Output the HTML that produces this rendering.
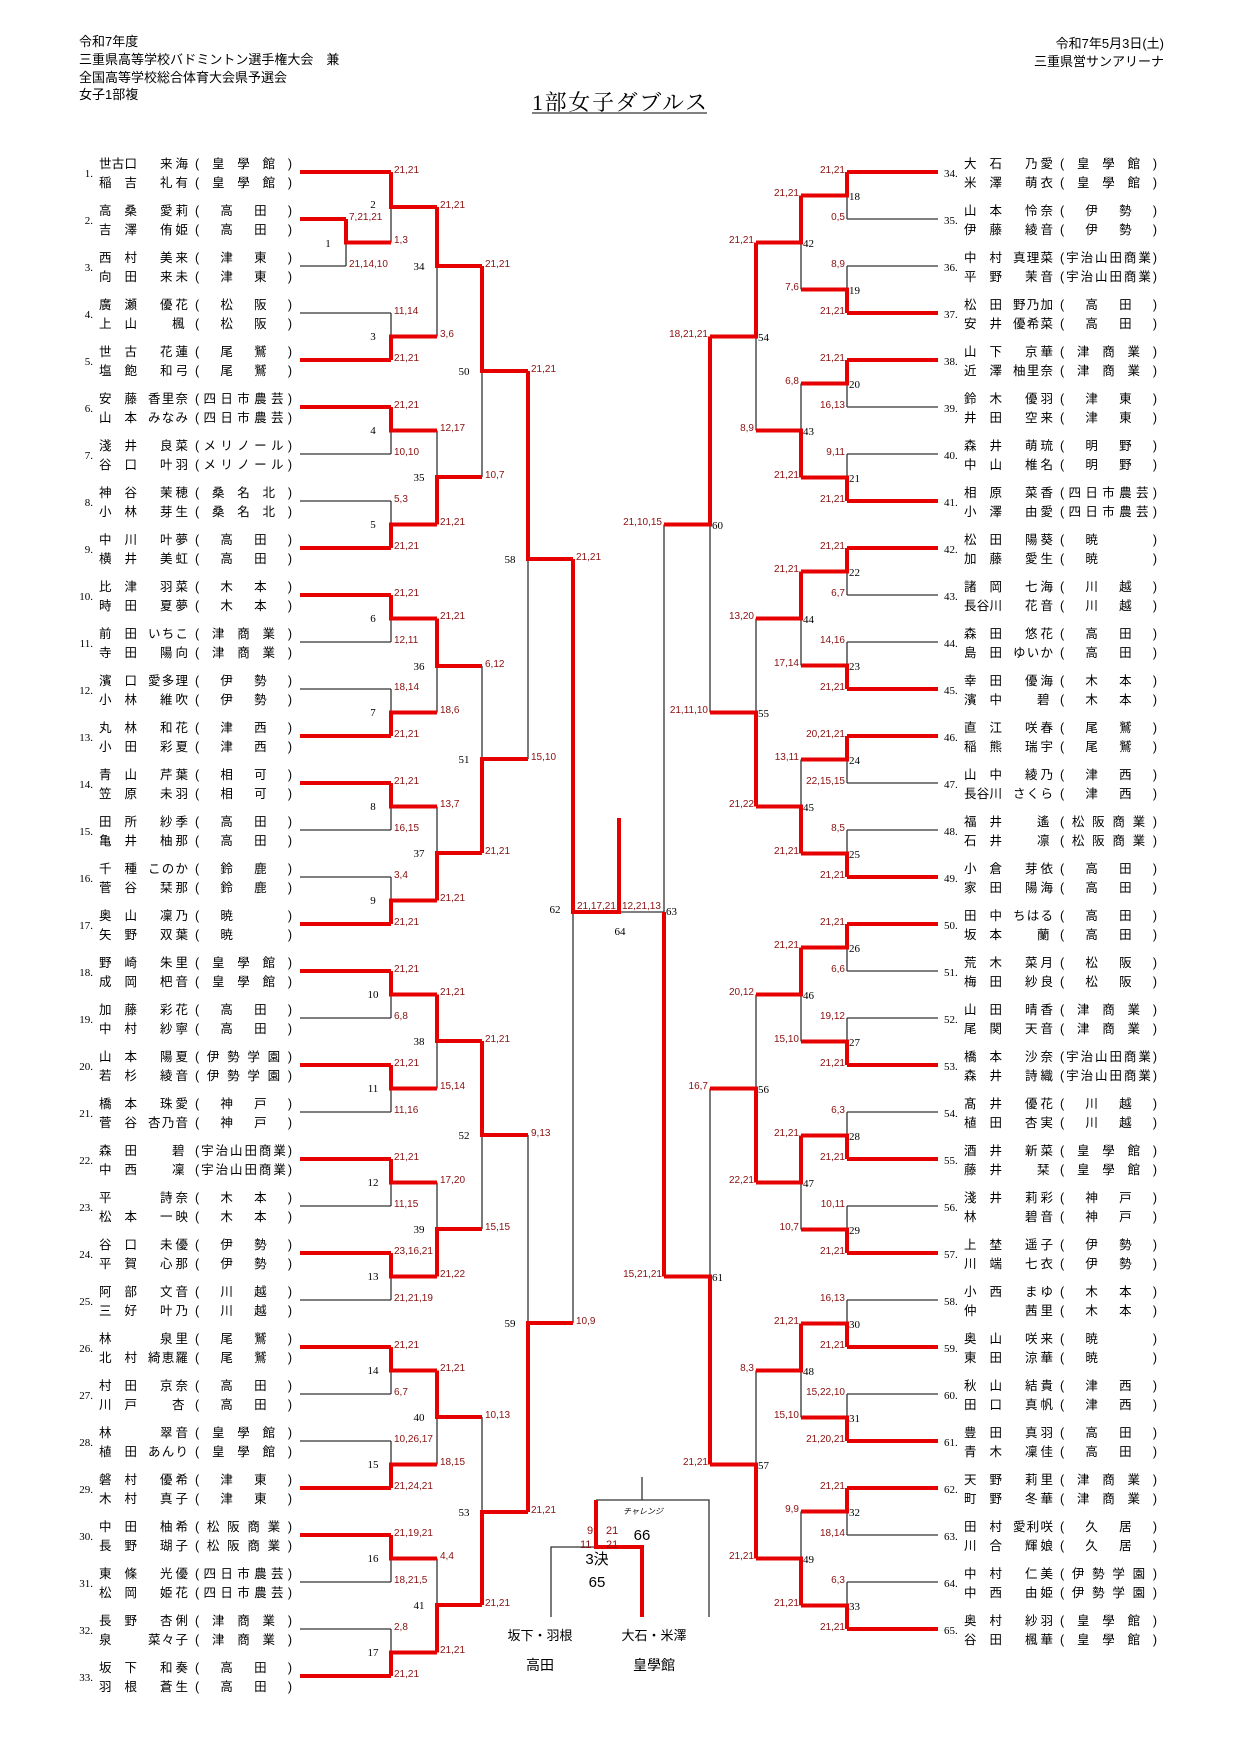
<!DOCTYPE html>
<html><head><meta charset="utf-8">
<style>
html,body{margin:0;padding:0;background:#fff;}
svg{display:block}
text{font-family:"Liberation Sans","Noto Sans CJK JP",sans-serif;font-size:12.5px;fill:#000}
.h{font-size:13px}
.ti{font-family:"Liberation Serif","Noto Serif CJK SC",serif;font-size:22px}
.no{font-family:"Liberation Serif",serif;font-size:11px}
.s{font-size:10px;fill:#8b1010}
.m{font-family:"Liberation Serif",serif;font-size:11px}
.r{stroke:#e60000;stroke-width:4;fill:none}
.k{stroke:#333;stroke-width:1.3;fill:none}
.le text.s{text-anchor:start}
.ri text.s{text-anchor:end}
</style></head><body>
<svg width="1241" height="1755" viewBox="0 0 1241 1755" xmlns="http://www.w3.org/2000/svg">
<!-- header -->
<text class="h" x="79" y="46">令和7年度</text>
<text class="h" x="79" y="64">三重県高等学校バドミントン選手権大会　兼</text>
<text class="h" x="79" y="82">全国高等学校総合体育大会県予選会</text>
<text class="h" x="79" y="99">女子1部複</text>
<text class="h" x="1164" y="48" text-anchor="end">令和7年5月3日(土)</text>
<text class="h" x="1164" y="66" text-anchor="end">三重県営サンアリーナ</text>
<text class="ti" x="532" y="110" textLength="175">1部女子ダブルス</text>
<line x1="532" y1="113" x2="707" y2="113" stroke="#000" stroke-width="1"/>

<!-- black lines -->
<path class="k" d="M300 266H346M300 313H391M300 454H391M300 501H391M300 642H391M300 689H391M300 830H391M300 877H391M300 1018H391M300 1112H391M300 1206H391M300 1300H391M300 1394H391M300 1441H391M300 1582H391M300 1629H391"/>
<path class="k" d="M346 242.5V266M391 207V242.5M391 313V336.5M391 430.5V454M391 501V524.5M391 618.5V642M391 689V712.5M391 806.5V830M391 877V900.5M391 994.5V1018M391 1088.5V1112M391 1182.5V1206M391 1276.5V1300M391 1370.5V1394M391 1441V1464.5M391 1558.5V1582M391 1629V1652.5M437 266V336.5M437 430.5V477M437 666V712.5M437 806.5V853M437 1041V1088.5M437 1182.5V1229M437 1417V1464.5M437 1558.5V1605M482 371V477M482 666V759M482 1135V1229M482 1417V1512M528 559V759M528 1135V1323M573 912V1323"/>
<path class="k" d="M847 219H938M847 266H938M847 407H938M847 454H938M847 595H938M847 642H938M847 783H938M847 830H938M847 971H938M847 1018H938M847 1112H938M847 1206H938M847 1300H938M847 1394H938M847 1535H938M847 1582H938"/>
<path class="k" d="M847 195.5V219M847 266V289.5M847 383.5V407M847 454V477.5M847 571.5V595M847 642V665.5M847 759.5V783M847 830V853.5M847 947.5V971M847 1018V1041.5M847 1112V1135.5M847 1206V1229.5M847 1300V1323.5M847 1394V1417.5M847 1511.5V1535M847 1582V1605.5M801 242.5V289.5M801 383.5V430.5M801 618.5V665.5M801 759.5V806.5M801 994.5V1041.5M801 1182.5V1229.5M801 1370.5V1417.5M801 1511.5V1558.5M756 336.5V430.5M756 618.5V712.5M756 994.5V1088.5M756 1370.5V1464.5M710 524.5V712.5M710 1088.5V1276.5M664 524.5V912H619"/>
<path class="k" d="M551 1617V1547H596M642 1477V1500M596 1500H709V1617"/>

<!-- red lines -->
<path class="r" d="M300 172H391M300 219H346M300 360H391M300 407H391M300 548H391M300 595H391M300 736H391M300 783H391M300 924H391M300 971H391M300 1065H391M300 1159H391M300 1253H391M300 1347H391M300 1488H391M300 1535H391M300 1676H391"/>
<path class="r" d="M346 219V242.5H391M391 172V207H437M391 360V336.5H437M391 407V430.5H437M391 548V524.5H437M391 595V618.5H437M391 736V712.5H437M391 783V806.5H437M391 924V900.5H437M391 971V994.5H437M391 1065V1088.5H437M391 1159V1182.5H437M391 1253V1276.5H437M391 1347V1370.5H437M391 1488V1464.5H437M391 1535V1558.5H437M391 1676V1652.5H437"/>
<path class="r" d="M437 207V266H482M437 524.5V477H482M437 618.5V666H482M437 900.5V853H482M437 994.5V1041H482M437 1276.5V1229H482M437 1370.5V1417H482M437 1652.5V1605H482M482 266V371H528M482 853V759H528M482 1041V1135H528M482 1605V1512H528M528 371V559H573M528 1512V1323H573M573 559V912H619V818"/>
<path class="r" d="M847 172H938M847 313H938M847 360H938M847 501H938M847 548H938M847 689H938M847 736H938M847 877H938M847 924H938M847 1065H938M847 1159H938M847 1253H938M847 1347H938M847 1441H938M847 1488H938M847 1629H938"/>
<path class="r" d="M847 172V195.5H801M847 313V289.5H801M847 360V383.5H801M847 501V477.5H801M847 548V571.5H801M847 689V665.5H801M847 736V759.5H801M847 877V853.5H801M847 924V947.5H801M847 1065V1041.5H801M847 1159V1135.5H801M847 1253V1229.5H801M847 1347V1323.5H801M847 1441V1417.5H801M847 1488V1511.5H801M847 1629V1605.5H801"/>
<path class="r" d="M801 195.5V242.5H756M801 477.5V430.5H756M801 571.5V618.5H756M801 853.5V806.5H756M801 947.5V994.5H756M801 1135.5V1182.5H756M801 1323.5V1370.5H756M801 1605.5V1558.5H756M756 242.5V336.5H710M756 806.5V712.5H710M756 1182.5V1088.5H710M756 1558.5V1464.5H710M710 336.5V524.5H664M710 1464.5V1276.5H664M664 1276.5V912"/>
<path class="r" d="M596 1500V1547H642V1617"/>

<!-- left scores -->
<g class="le">
<text class="s" x="349" y="220">7,21,21</text><text class="s" x="349" y="267">21,14,10</text>
<text class="s" x="394" y="173">21,21</text><text class="s" x="394" y="243">1,3</text>
<text class="s" x="394" y="314">11,14</text><text class="s" x="394" y="361">21,21</text>
<text class="s" x="394" y="408">21,21</text><text class="s" x="394" y="455">10,10</text>
<text class="s" x="394" y="502">5,3</text><text class="s" x="394" y="549">21,21</text>
<text class="s" x="394" y="596">21,21</text><text class="s" x="394" y="643">12,11</text>
<text class="s" x="394" y="690">18,14</text><text class="s" x="394" y="737">21,21</text>
<text class="s" x="394" y="784">21,21</text><text class="s" x="394" y="831">16,15</text>
<text class="s" x="394" y="878">3,4</text><text class="s" x="394" y="925">21,21</text>
<text class="s" x="394" y="972">21,21</text><text class="s" x="394" y="1019">6,8</text>
<text class="s" x="394" y="1066">21,21</text><text class="s" x="394" y="1113">11,16</text>
<text class="s" x="394" y="1160">21,21</text><text class="s" x="394" y="1207">11,15</text>
<text class="s" x="394" y="1254">23,16,21</text><text class="s" x="394" y="1301">21,21,19</text>
<text class="s" x="394" y="1348">21,21</text><text class="s" x="394" y="1395">6,7</text>
<text class="s" x="394" y="1442">10,26,17</text><text class="s" x="394" y="1489">21,24,21</text>
<text class="s" x="394" y="1536">21,19,21</text><text class="s" x="394" y="1583">18,21,5</text>
<text class="s" x="394" y="1630">2,8</text><text class="s" x="394" y="1677">21,21</text>
<text class="s" x="440" y="208">21,21</text><text class="s" x="440" y="337">3,6</text>
<text class="s" x="440" y="431">12,17</text><text class="s" x="440" y="525">21,21</text>
<text class="s" x="440" y="619">21,21</text><text class="s" x="440" y="713">18,6</text>
<text class="s" x="440" y="807">13,7</text><text class="s" x="440" y="901">21,21</text>
<text class="s" x="440" y="995">21,21</text><text class="s" x="440" y="1089">15,14</text>
<text class="s" x="440" y="1183">17,20</text><text class="s" x="440" y="1277">21,22</text>
<text class="s" x="440" y="1371">21,21</text><text class="s" x="440" y="1465">18,15</text>
<text class="s" x="440" y="1559">4,4</text><text class="s" x="440" y="1653">21,21</text>
<text class="s" x="485" y="267">21,21</text><text class="s" x="485" y="478">10,7</text>
<text class="s" x="485" y="667">6,12</text><text class="s" x="485" y="854">21,21</text>
<text class="s" x="485" y="1042">21,21</text><text class="s" x="485" y="1230">15,15</text>
<text class="s" x="485" y="1418">10,13</text><text class="s" x="485" y="1606">21,21</text>
<text class="s" x="531" y="372">21,21</text><text class="s" x="531" y="760">15,10</text>
<text class="s" x="531" y="1136">9,13</text><text class="s" x="531" y="1513">21,21</text>
<text class="s" x="576" y="560">21,21</text><text class="s" x="576" y="1324">10,9</text>
<text class="s" x="577" y="909">21,17,21</text><text class="s" x="622" y="909">12,21,13</text>
</g>
<!-- right scores -->
<g class="ri">
<text class="s" x="845" y="173">21,21</text><text class="s" x="845" y="220">0,5</text>
<text class="s" x="845" y="267">8,9</text><text class="s" x="845" y="314">21,21</text>
<text class="s" x="845" y="361">21,21</text><text class="s" x="845" y="408">16,13</text>
<text class="s" x="845" y="455">9,11</text><text class="s" x="845" y="502">21,21</text>
<text class="s" x="845" y="549">21,21</text><text class="s" x="845" y="596">6,7</text>
<text class="s" x="845" y="643">14,16</text><text class="s" x="845" y="690">21,21</text>
<text class="s" x="845" y="737">20,21,21</text><text class="s" x="845" y="784">22,15,15</text>
<text class="s" x="845" y="831">8,5</text><text class="s" x="845" y="878">21,21</text>
<text class="s" x="845" y="925">21,21</text><text class="s" x="845" y="972">6,6</text>
<text class="s" x="845" y="1019">19,12</text><text class="s" x="845" y="1066">21,21</text>
<text class="s" x="845" y="1113">6,3</text><text class="s" x="845" y="1160">21,21</text>
<text class="s" x="845" y="1207">10,11</text><text class="s" x="845" y="1254">21,21</text>
<text class="s" x="845" y="1301">16,13</text><text class="s" x="845" y="1348">21,21</text>
<text class="s" x="845" y="1395">15,22,10</text><text class="s" x="845" y="1442">21,20,21</text>
<text class="s" x="845" y="1489">21,21</text><text class="s" x="845" y="1536">18,14</text>
<text class="s" x="845" y="1583">6,3</text><text class="s" x="845" y="1630">21,21</text>
<text class="s" x="799" y="196">21,21</text><text class="s" x="799" y="290">7,6</text>
<text class="s" x="799" y="384">6,8</text><text class="s" x="799" y="478">21,21</text>
<text class="s" x="799" y="572">21,21</text><text class="s" x="799" y="666">17,14</text>
<text class="s" x="799" y="760">13,11</text><text class="s" x="799" y="854">21,21</text>
<text class="s" x="799" y="948">21,21</text><text class="s" x="799" y="1042">15,10</text>
<text class="s" x="799" y="1136">21,21</text><text class="s" x="799" y="1230">10,7</text>
<text class="s" x="799" y="1324">21,21</text><text class="s" x="799" y="1418">15,10</text>
<text class="s" x="799" y="1512">9,9</text><text class="s" x="799" y="1606">21,21</text>
<text class="s" x="754" y="243">21,21</text><text class="s" x="754" y="431">8,9</text>
<text class="s" x="754" y="619">13,20</text><text class="s" x="754" y="807">21,22</text>
<text class="s" x="754" y="995">20,12</text><text class="s" x="754" y="1183">22,21</text>
<text class="s" x="754" y="1371">8,3</text><text class="s" x="754" y="1559">21,21</text>
<text class="s" x="708" y="337">18,21,21</text><text class="s" x="708" y="713">21,11,10</text>
<text class="s" x="708" y="1089">16,7</text><text class="s" x="708" y="1465">21,21</text>
<text class="s" x="662" y="525">21,10,15</text><text class="s" x="662" y="1277">15,21,21</text>
</g>

<!-- match numbers left -->
<g class="m" text-anchor="middle">
<text class="m" x="328" y="247" text-anchor="middle">1</text>
<text class="m" x="373" y="208" text-anchor="middle">2</text>
<text class="m" x="373" y="340" text-anchor="middle">3</text>
<text class="m" x="373" y="434" text-anchor="middle">4</text>
<text class="m" x="373" y="528" text-anchor="middle">5</text>
<text class="m" x="373" y="622" text-anchor="middle">6</text>
<text class="m" x="373" y="716" text-anchor="middle">7</text>
<text class="m" x="373" y="810" text-anchor="middle">8</text>
<text class="m" x="373" y="904" text-anchor="middle">9</text>
<text class="m" x="373" y="998" text-anchor="middle">10</text>
<text class="m" x="373" y="1092" text-anchor="middle">11</text>
<text class="m" x="373" y="1186" text-anchor="middle">12</text>
<text class="m" x="373" y="1280" text-anchor="middle">13</text>
<text class="m" x="373" y="1374" text-anchor="middle">14</text>
<text class="m" x="373" y="1468" text-anchor="middle">15</text>
<text class="m" x="373" y="1562" text-anchor="middle">16</text>
<text class="m" x="373" y="1656" text-anchor="middle">17</text>
<text class="m" x="419" y="270" text-anchor="middle">34</text>
<text class="m" x="419" y="481" text-anchor="middle">35</text>
<text class="m" x="419" y="670" text-anchor="middle">36</text>
<text class="m" x="419" y="857" text-anchor="middle">37</text>
<text class="m" x="419" y="1045" text-anchor="middle">38</text>
<text class="m" x="419" y="1233" text-anchor="middle">39</text>
<text class="m" x="419" y="1421" text-anchor="middle">40</text>
<text class="m" x="419" y="1609" text-anchor="middle">41</text>
<text class="m" x="464" y="375" text-anchor="middle">50</text>
<text class="m" x="464" y="763" text-anchor="middle">51</text>
<text class="m" x="464" y="1139" text-anchor="middle">52</text>
<text class="m" x="464" y="1516" text-anchor="middle">53</text>
<text class="m" x="510" y="563" text-anchor="middle">58</text>
<text class="m" x="510" y="1327" text-anchor="middle">59</text>
<text class="m" x="555" y="913" text-anchor="middle">62</text>
<text class="m" x="620" y="935" text-anchor="middle">64</text>
</g>
<!-- match numbers right -->
<text class="m" x="849" y="200">18</text><text class="m" x="849" y="294">19</text>
<text class="m" x="849" y="388">20</text><text class="m" x="849" y="482">21</text>
<text class="m" x="849" y="576">22</text><text class="m" x="849" y="670">23</text>
<text class="m" x="849" y="764">24</text><text class="m" x="849" y="858">25</text>
<text class="m" x="849" y="952">26</text><text class="m" x="849" y="1046">27</text>
<text class="m" x="849" y="1140">28</text><text class="m" x="849" y="1234">29</text>
<text class="m" x="849" y="1328">30</text><text class="m" x="849" y="1422">31</text>
<text class="m" x="849" y="1516">32</text><text class="m" x="849" y="1610">33</text>
<text class="m" x="803" y="247">42</text><text class="m" x="803" y="435">43</text>
<text class="m" x="803" y="623">44</text><text class="m" x="803" y="811">45</text>
<text class="m" x="803" y="999">46</text><text class="m" x="803" y="1187">47</text>
<text class="m" x="803" y="1375">48</text><text class="m" x="803" y="1563">49</text>
<text class="m" x="758" y="341">54</text><text class="m" x="758" y="717">55</text>
<text class="m" x="758" y="1093">56</text><text class="m" x="758" y="1469">57</text>
<text class="m" x="712" y="529">60</text><text class="m" x="712" y="1281">61</text>
<text class="m" x="666" y="915">63</text>

<!-- 3rd place / challenge -->
<text class="s" x="587" y="1534" style="font-size:11px">9</text>
<text class="s" x="606" y="1534" style="font-size:11px">21</text>
<text class="s" x="580" y="1548" style="font-size:11px">11</text>
<text class="s" x="606" y="1548" style="font-size:11px">21</text>
<text x="623" y="1514" style="font-size:8px;font-style:italic">チャレンジ</text>
<text x="642" y="1540" text-anchor="middle" style="font-size:15px">66</text>
<text x="597" y="1564" text-anchor="middle" style="font-size:15px">3決</text>
<text x="597" y="1587" text-anchor="middle" style="font-size:15px">65</text>
<text x="540" y="1640" text-anchor="middle" style="font-size:13px">坂下・羽根</text>
<text x="540" y="1670" text-anchor="middle" style="font-size:14px">高田</text>
<text x="654" y="1640" text-anchor="middle" style="font-size:13px">大石・米澤</text>
<text x="654" y="1670" text-anchor="middle" style="font-size:14px">皇學館</text>

<!-- LEFT ENTRIES -->
<g transform="translate(0,172)"><text class="no" x="93" y="5" text-anchor="end">1.</text><text x="99" y="-4" textLength="38">世古口</text><text x="160" y="-4" textLength="28">来海</text><text x="195" y="-4" textLength="97">(皇學館)</text><text x="99" y="15" textLength="38">稲吉</text><text x="160" y="15" textLength="28">礼有</text><text x="195" y="15" textLength="97">(皇學館)</text></g>
<g transform="translate(0,219)"><text class="no" x="93" y="5" text-anchor="end">2.</text><text x="99" y="-4" textLength="38">高桑</text><text x="160" y="-4" textLength="28">愛莉</text><text x="195" y="-4" textLength="97">(高田)</text><text x="99" y="15" textLength="38">吉澤</text><text x="160" y="15" textLength="28">侑姫</text><text x="195" y="15" textLength="97">(高田)</text></g>
<g transform="translate(0,266)"><text class="no" x="93" y="5" text-anchor="end">3.</text><text x="99" y="-4" textLength="38">西村</text><text x="160" y="-4" textLength="28">美来</text><text x="195" y="-4" textLength="97">(津東)</text><text x="99" y="15" textLength="38">向田</text><text x="160" y="15" textLength="28">来未</text><text x="195" y="15" textLength="97">(津東)</text></g>
<g transform="translate(0,313)"><text class="no" x="93" y="5" text-anchor="end">4.</text><text x="99" y="-4" textLength="38">廣瀬</text><text x="160" y="-4" textLength="28">優花</text><text x="195" y="-4" textLength="97">(松阪)</text><text x="99" y="15" textLength="38">上山</text><text x="172" y="15">楓</text><text x="195" y="15" textLength="97">(松阪)</text></g>
<g transform="translate(0,360)"><text class="no" x="93" y="5" text-anchor="end">5.</text><text x="99" y="-4" textLength="38">世古</text><text x="160" y="-4" textLength="28">花蓮</text><text x="195" y="-4" textLength="97">(尾鷲)</text><text x="99" y="15" textLength="38">塩飽</text><text x="160" y="15" textLength="28">和弓</text><text x="195" y="15" textLength="97">(尾鷲)</text></g>
<g transform="translate(0,407)"><text class="no" x="93" y="5" text-anchor="end">6.</text><text x="99" y="-4" textLength="38">安藤</text><text x="148" y="-4" textLength="40">香里奈</text><text x="195" y="-4" textLength="97">(四日市農芸)</text><text x="99" y="15" textLength="38">山本</text><text x="148" y="15" textLength="40">みなみ</text><text x="195" y="15" textLength="97">(四日市農芸)</text></g>
<g transform="translate(0,454)"><text class="no" x="93" y="5" text-anchor="end">7.</text><text x="99" y="-4" textLength="38">淺井</text><text x="160" y="-4" textLength="28">良菜</text><text x="195" y="-4" textLength="97">(メリノール)</text><text x="99" y="15" textLength="38">谷口</text><text x="160" y="15" textLength="28">叶羽</text><text x="195" y="15" textLength="97">(メリノール)</text></g>
<g transform="translate(0,501)"><text class="no" x="93" y="5" text-anchor="end">8.</text><text x="99" y="-4" textLength="38">神谷</text><text x="160" y="-4" textLength="28">茉穂</text><text x="195" y="-4" textLength="97">(桑名北)</text><text x="99" y="15" textLength="38">小林</text><text x="160" y="15" textLength="28">芽生</text><text x="195" y="15" textLength="97">(桑名北)</text></g>
<g transform="translate(0,548)"><text class="no" x="93" y="5" text-anchor="end">9.</text><text x="99" y="-4" textLength="38">中川</text><text x="160" y="-4" textLength="28">叶夢</text><text x="195" y="-4" textLength="97">(高田)</text><text x="99" y="15" textLength="38">横井</text><text x="160" y="15" textLength="28">美虹</text><text x="195" y="15" textLength="97">(高田)</text></g>
<g transform="translate(0,595)"><text class="no" x="93" y="5" text-anchor="end">10.</text><text x="99" y="-4" textLength="38">比津</text><text x="160" y="-4" textLength="28">羽菜</text><text x="195" y="-4" textLength="97">(木本)</text><text x="99" y="15" textLength="38">時田</text><text x="160" y="15" textLength="28">夏夢</text><text x="195" y="15" textLength="97">(木本)</text></g>
<g transform="translate(0,642)"><text class="no" x="93" y="5" text-anchor="end">11.</text><text x="99" y="-4" textLength="38">前田</text><text x="148" y="-4" textLength="40">いちこ</text><text x="195" y="-4" textLength="97">(津商業)</text><text x="99" y="15" textLength="38">寺田</text><text x="160" y="15" textLength="28">陽向</text><text x="195" y="15" textLength="97">(津商業)</text></g>
<g transform="translate(0,689)"><text class="no" x="93" y="5" text-anchor="end">12.</text><text x="99" y="-4" textLength="38">濱口</text><text x="148" y="-4" textLength="40">愛多理</text><text x="195" y="-4" textLength="97">(伊勢)</text><text x="99" y="15" textLength="38">小林</text><text x="160" y="15" textLength="28">維吹</text><text x="195" y="15" textLength="97">(伊勢)</text></g>
<g transform="translate(0,736)"><text class="no" x="93" y="5" text-anchor="end">13.</text><text x="99" y="-4" textLength="38">丸林</text><text x="160" y="-4" textLength="28">和花</text><text x="195" y="-4" textLength="97">(津西)</text><text x="99" y="15" textLength="38">小田</text><text x="160" y="15" textLength="28">彩夏</text><text x="195" y="15" textLength="97">(津西)</text></g>
<g transform="translate(0,783)"><text class="no" x="93" y="5" text-anchor="end">14.</text><text x="99" y="-4" textLength="38">青山</text><text x="160" y="-4" textLength="28">芹葉</text><text x="195" y="-4" textLength="97">(相可)</text><text x="99" y="15" textLength="38">笠原</text><text x="160" y="15" textLength="28">未羽</text><text x="195" y="15" textLength="97">(相可)</text></g>
<g transform="translate(0,830)"><text class="no" x="93" y="5" text-anchor="end">15.</text><text x="99" y="-4" textLength="38">田所</text><text x="160" y="-4" textLength="28">紗季</text><text x="195" y="-4" textLength="97">(高田)</text><text x="99" y="15" textLength="38">亀井</text><text x="160" y="15" textLength="28">柚那</text><text x="195" y="15" textLength="97">(高田)</text></g>
<g transform="translate(0,877)"><text class="no" x="93" y="5" text-anchor="end">16.</text><text x="99" y="-4" textLength="38">千種</text><text x="148" y="-4" textLength="40">このか</text><text x="195" y="-4" textLength="97">(鈴鹿)</text><text x="99" y="15" textLength="38">菅谷</text><text x="160" y="15" textLength="28">栞那</text><text x="195" y="15" textLength="97">(鈴鹿)</text></g>
<g transform="translate(0,924)"><text class="no" x="93" y="5" text-anchor="end">17.</text><text x="99" y="-4" textLength="38">奥山</text><text x="160" y="-4" textLength="28">凜乃</text><text x="195" y="-4" textLength="97">(暁　)</text><text x="99" y="15" textLength="38">矢野</text><text x="160" y="15" textLength="28">双葉</text><text x="195" y="15" textLength="97">(暁　)</text></g>
<g transform="translate(0,971)"><text class="no" x="93" y="5" text-anchor="end">18.</text><text x="99" y="-4" textLength="38">野崎</text><text x="160" y="-4" textLength="28">朱里</text><text x="195" y="-4" textLength="97">(皇學館)</text><text x="99" y="15" textLength="38">成岡</text><text x="160" y="15" textLength="28">杷音</text><text x="195" y="15" textLength="97">(皇學館)</text></g>
<g transform="translate(0,1018)"><text class="no" x="93" y="5" text-anchor="end">19.</text><text x="99" y="-4" textLength="38">加藤</text><text x="160" y="-4" textLength="28">彩花</text><text x="195" y="-4" textLength="97">(高田)</text><text x="99" y="15" textLength="38">中村</text><text x="160" y="15" textLength="28">紗寧</text><text x="195" y="15" textLength="97">(高田)</text></g>
<g transform="translate(0,1065)"><text class="no" x="93" y="5" text-anchor="end">20.</text><text x="99" y="-4" textLength="38">山本</text><text x="160" y="-4" textLength="28">陽夏</text><text x="195" y="-4" textLength="97">(伊勢学園)</text><text x="99" y="15" textLength="38">若杉</text><text x="160" y="15" textLength="28">綾音</text><text x="195" y="15" textLength="97">(伊勢学園)</text></g>
<g transform="translate(0,1112)"><text class="no" x="93" y="5" text-anchor="end">21.</text><text x="99" y="-4" textLength="38">橋本</text><text x="160" y="-4" textLength="28">珠愛</text><text x="195" y="-4" textLength="97">(神戸)</text><text x="99" y="15" textLength="38">菅谷</text><text x="148" y="15" textLength="40">杏乃音</text><text x="195" y="15" textLength="97">(神戸)</text></g>
<g transform="translate(0,1159)"><text class="no" x="93" y="5" text-anchor="end">22.</text><text x="99" y="-4" textLength="38">森田</text><text x="172" y="-4">碧</text><text x="195" y="-4" textLength="97">(宇治山田商業)</text><text x="99" y="15" textLength="38">中西</text><text x="172" y="15">凜</text><text x="195" y="15" textLength="97">(宇治山田商業)</text></g>
<g transform="translate(0,1206)"><text class="no" x="93" y="5" text-anchor="end">23.</text><text x="99" y="-4">平</text><text x="160" y="-4" textLength="28">詩奈</text><text x="195" y="-4" textLength="97">(木本)</text><text x="99" y="15" textLength="38">松本</text><text x="160" y="15" textLength="28">一映</text><text x="195" y="15" textLength="97">(木本)</text></g>
<g transform="translate(0,1253)"><text class="no" x="93" y="5" text-anchor="end">24.</text><text x="99" y="-4" textLength="38">谷口</text><text x="160" y="-4" textLength="28">未優</text><text x="195" y="-4" textLength="97">(伊勢)</text><text x="99" y="15" textLength="38">平賀</text><text x="160" y="15" textLength="28">心那</text><text x="195" y="15" textLength="97">(伊勢)</text></g>
<g transform="translate(0,1300)"><text class="no" x="93" y="5" text-anchor="end">25.</text><text x="99" y="-4" textLength="38">阿部</text><text x="160" y="-4" textLength="28">文音</text><text x="195" y="-4" textLength="97">(川越)</text><text x="99" y="15" textLength="38">三好</text><text x="160" y="15" textLength="28">叶乃</text><text x="195" y="15" textLength="97">(川越)</text></g>
<g transform="translate(0,1347)"><text class="no" x="93" y="5" text-anchor="end">26.</text><text x="99" y="-4">林</text><text x="160" y="-4" textLength="28">泉里</text><text x="195" y="-4" textLength="97">(尾鷲)</text><text x="99" y="15" textLength="38">北村</text><text x="148" y="15" textLength="40">綺恵羅</text><text x="195" y="15" textLength="97">(尾鷲)</text></g>
<g transform="translate(0,1394)"><text class="no" x="93" y="5" text-anchor="end">27.</text><text x="99" y="-4" textLength="38">村田</text><text x="160" y="-4" textLength="28">京奈</text><text x="195" y="-4" textLength="97">(高田)</text><text x="99" y="15" textLength="38">川戸</text><text x="172" y="15">杏</text><text x="195" y="15" textLength="97">(高田)</text></g>
<g transform="translate(0,1441)"><text class="no" x="93" y="5" text-anchor="end">28.</text><text x="99" y="-4">林</text><text x="160" y="-4" textLength="28">翠音</text><text x="195" y="-4" textLength="97">(皇學館)</text><text x="99" y="15" textLength="38">植田</text><text x="148" y="15" textLength="40">あんり</text><text x="195" y="15" textLength="97">(皇學館)</text></g>
<g transform="translate(0,1488)"><text class="no" x="93" y="5" text-anchor="end">29.</text><text x="99" y="-4" textLength="38">磐村</text><text x="160" y="-4" textLength="28">優希</text><text x="195" y="-4" textLength="97">(津東)</text><text x="99" y="15" textLength="38">木村</text><text x="160" y="15" textLength="28">真子</text><text x="195" y="15" textLength="97">(津東)</text></g>
<g transform="translate(0,1535)"><text class="no" x="93" y="5" text-anchor="end">30.</text><text x="99" y="-4" textLength="38">中田</text><text x="160" y="-4" textLength="28">柚希</text><text x="195" y="-4" textLength="97">(松阪商業)</text><text x="99" y="15" textLength="38">長野</text><text x="160" y="15" textLength="28">瑚子</text><text x="195" y="15" textLength="97">(松阪商業)</text></g>
<g transform="translate(0,1582)"><text class="no" x="93" y="5" text-anchor="end">31.</text><text x="99" y="-4" textLength="38">東條</text><text x="160" y="-4" textLength="28">光優</text><text x="195" y="-4" textLength="97">(四日市農芸)</text><text x="99" y="15" textLength="38">松岡</text><text x="160" y="15" textLength="28">姫花</text><text x="195" y="15" textLength="97">(四日市農芸)</text></g>
<g transform="translate(0,1629)"><text class="no" x="93" y="5" text-anchor="end">32.</text><text x="99" y="-4" textLength="38">長野</text><text x="160" y="-4" textLength="28">杏俐</text><text x="195" y="-4" textLength="97">(津商業)</text><text x="99" y="15">泉</text><text x="148" y="15" textLength="40">菜々子</text><text x="195" y="15" textLength="97">(津商業)</text></g>
<g transform="translate(0,1676)"><text class="no" x="93" y="5" text-anchor="end">33.</text><text x="99" y="-4" textLength="38">坂下</text><text x="160" y="-4" textLength="28">和奏</text><text x="195" y="-4" textLength="97">(高田)</text><text x="99" y="15" textLength="38">羽根</text><text x="160" y="15" textLength="28">蒼生</text><text x="195" y="15" textLength="97">(高田)</text></g>

<!-- RIGHT ENTRIES (offset 865) -->
<g transform="translate(865,172)"><text class="no" x="79" y="5">34.</text><text x="99" y="-4" textLength="38">大石</text><text x="160" y="-4" textLength="28">乃愛</text><text x="195" y="-4" textLength="97">(皇學館)</text><text x="99" y="15" textLength="38">米澤</text><text x="160" y="15" textLength="28">萌衣</text><text x="195" y="15" textLength="97">(皇學館)</text></g>
<g transform="translate(865,219)"><text class="no" x="79" y="5">35.</text><text x="99" y="-4" textLength="38">山本</text><text x="160" y="-4" textLength="28">怜奈</text><text x="195" y="-4" textLength="97">(伊勢)</text><text x="99" y="15" textLength="38">伊藤</text><text x="160" y="15" textLength="28">綾音</text><text x="195" y="15" textLength="97">(伊勢)</text></g>
<g transform="translate(865,266)"><text class="no" x="79" y="5">36.</text><text x="99" y="-4" textLength="38">中村</text><text x="148" y="-4" textLength="40">真理菜</text><text x="195" y="-4" textLength="97">(宇治山田商業)</text><text x="99" y="15" textLength="38">平野</text><text x="160" y="15" textLength="28">茉音</text><text x="195" y="15" textLength="97">(宇治山田商業)</text></g>
<g transform="translate(865,313)"><text class="no" x="79" y="5">37.</text><text x="99" y="-4" textLength="38">松田</text><text x="148" y="-4" textLength="40">野乃加</text><text x="195" y="-4" textLength="97">(高田)</text><text x="99" y="15" textLength="38">安井</text><text x="148" y="15" textLength="40">優希菜</text><text x="195" y="15" textLength="97">(高田)</text></g>
<g transform="translate(865,360)"><text class="no" x="79" y="5">38.</text><text x="99" y="-4" textLength="38">山下</text><text x="160" y="-4" textLength="28">京華</text><text x="195" y="-4" textLength="97">(津商業)</text><text x="99" y="15" textLength="38">近澤</text><text x="148" y="15" textLength="40">柚里奈</text><text x="195" y="15" textLength="97">(津商業)</text></g>
<g transform="translate(865,407)"><text class="no" x="79" y="5">39.</text><text x="99" y="-4" textLength="38">鈴木</text><text x="160" y="-4" textLength="28">優羽</text><text x="195" y="-4" textLength="97">(津東)</text><text x="99" y="15" textLength="38">井田</text><text x="160" y="15" textLength="28">空来</text><text x="195" y="15" textLength="97">(津東)</text></g>
<g transform="translate(865,454)"><text class="no" x="79" y="5">40.</text><text x="99" y="-4" textLength="38">森井</text><text x="160" y="-4" textLength="28">萌琉</text><text x="195" y="-4" textLength="97">(明野)</text><text x="99" y="15" textLength="38">中山</text><text x="160" y="15" textLength="28">椎名</text><text x="195" y="15" textLength="97">(明野)</text></g>
<g transform="translate(865,501)"><text class="no" x="79" y="5">41.</text><text x="99" y="-4" textLength="38">相原</text><text x="160" y="-4" textLength="28">菜香</text><text x="195" y="-4" textLength="97">(四日市農芸)</text><text x="99" y="15" textLength="38">小澤</text><text x="160" y="15" textLength="28">由愛</text><text x="195" y="15" textLength="97">(四日市農芸)</text></g>
<g transform="translate(865,548)"><text class="no" x="79" y="5">42.</text><text x="99" y="-4" textLength="38">松田</text><text x="160" y="-4" textLength="28">陽葵</text><text x="195" y="-4" textLength="97">(暁　)</text><text x="99" y="15" textLength="38">加藤</text><text x="160" y="15" textLength="28">愛生</text><text x="195" y="15" textLength="97">(暁　)</text></g>
<g transform="translate(865,595)"><text class="no" x="79" y="5">43.</text><text x="99" y="-4" textLength="38">諸岡</text><text x="160" y="-4" textLength="28">七海</text><text x="195" y="-4" textLength="97">(川越)</text><text x="99" y="15" textLength="38">長谷川</text><text x="160" y="15" textLength="28">花音</text><text x="195" y="15" textLength="97">(川越)</text></g>
<g transform="translate(865,642)"><text class="no" x="79" y="5">44.</text><text x="99" y="-4" textLength="38">森田</text><text x="160" y="-4" textLength="28">悠花</text><text x="195" y="-4" textLength="97">(高田)</text><text x="99" y="15" textLength="38">島田</text><text x="148" y="15" textLength="40">ゆいか</text><text x="195" y="15" textLength="97">(高田)</text></g>
<g transform="translate(865,689)"><text class="no" x="79" y="5">45.</text><text x="99" y="-4" textLength="38">幸田</text><text x="160" y="-4" textLength="28">優海</text><text x="195" y="-4" textLength="97">(木本)</text><text x="99" y="15" textLength="38">濱中</text><text x="172" y="15">碧</text><text x="195" y="15" textLength="97">(木本)</text></g>
<g transform="translate(865,736)"><text class="no" x="79" y="5">46.</text><text x="99" y="-4" textLength="38">直江</text><text x="160" y="-4" textLength="28">咲春</text><text x="195" y="-4" textLength="97">(尾鷲)</text><text x="99" y="15" textLength="38">稲熊</text><text x="160" y="15" textLength="28">瑞宇</text><text x="195" y="15" textLength="97">(尾鷲)</text></g>
<g transform="translate(865,783)"><text class="no" x="79" y="5">47.</text><text x="99" y="-4" textLength="38">山中</text><text x="160" y="-4" textLength="28">綾乃</text><text x="195" y="-4" textLength="97">(津西)</text><text x="99" y="15" textLength="38">長谷川</text><text x="148" y="15" textLength="40">さくら</text><text x="195" y="15" textLength="97">(津西)</text></g>
<g transform="translate(865,830)"><text class="no" x="79" y="5">48.</text><text x="99" y="-4" textLength="38">福井</text><text x="172" y="-4">遙</text><text x="195" y="-4" textLength="97">(松阪商業)</text><text x="99" y="15" textLength="38">石井</text><text x="172" y="15">凛</text><text x="195" y="15" textLength="97">(松阪商業)</text></g>
<g transform="translate(865,877)"><text class="no" x="79" y="5">49.</text><text x="99" y="-4" textLength="38">小倉</text><text x="160" y="-4" textLength="28">芽依</text><text x="195" y="-4" textLength="97">(高田)</text><text x="99" y="15" textLength="38">家田</text><text x="160" y="15" textLength="28">陽海</text><text x="195" y="15" textLength="97">(高田)</text></g>
<g transform="translate(865,924)"><text class="no" x="79" y="5">50.</text><text x="99" y="-4" textLength="38">田中</text><text x="148" y="-4" textLength="40">ちはる</text><text x="195" y="-4" textLength="97">(高田)</text><text x="99" y="15" textLength="38">坂本</text><text x="172" y="15">蘭</text><text x="195" y="15" textLength="97">(高田)</text></g>
<g transform="translate(865,971)"><text class="no" x="79" y="5">51.</text><text x="99" y="-4" textLength="38">荒木</text><text x="160" y="-4" textLength="28">菜月</text><text x="195" y="-4" textLength="97">(松阪)</text><text x="99" y="15" textLength="38">梅田</text><text x="160" y="15" textLength="28">紗良</text><text x="195" y="15" textLength="97">(松阪)</text></g>
<g transform="translate(865,1018)"><text class="no" x="79" y="5">52.</text><text x="99" y="-4" textLength="38">山田</text><text x="160" y="-4" textLength="28">晴香</text><text x="195" y="-4" textLength="97">(津商業)</text><text x="99" y="15" textLength="38">尾関</text><text x="160" y="15" textLength="28">天音</text><text x="195" y="15" textLength="97">(津商業)</text></g>
<g transform="translate(865,1065)"><text class="no" x="79" y="5">53.</text><text x="99" y="-4" textLength="38">橋本</text><text x="160" y="-4" textLength="28">沙奈</text><text x="195" y="-4" textLength="97">(宇治山田商業)</text><text x="99" y="15" textLength="38">森井</text><text x="160" y="15" textLength="28">詩織</text><text x="195" y="15" textLength="97">(宇治山田商業)</text></g>
<g transform="translate(865,1112)"><text class="no" x="79" y="5">54.</text><text x="99" y="-4" textLength="38">髙井</text><text x="160" y="-4" textLength="28">優花</text><text x="195" y="-4" textLength="97">(川越)</text><text x="99" y="15" textLength="38">植田</text><text x="160" y="15" textLength="28">杏実</text><text x="195" y="15" textLength="97">(川越)</text></g>
<g transform="translate(865,1159)"><text class="no" x="79" y="5">55.</text><text x="99" y="-4" textLength="38">酒井</text><text x="160" y="-4" textLength="28">新菜</text><text x="195" y="-4" textLength="97">(皇學館)</text><text x="99" y="15" textLength="38">藤井</text><text x="172" y="15">栞</text><text x="195" y="15" textLength="97">(皇學館)</text></g>
<g transform="translate(865,1206)"><text class="no" x="79" y="5">56.</text><text x="99" y="-4" textLength="38">淺井</text><text x="160" y="-4" textLength="28">莉彩</text><text x="195" y="-4" textLength="97">(神戸)</text><text x="99" y="15">林</text><text x="160" y="15" textLength="28">碧音</text><text x="195" y="15" textLength="97">(神戸)</text></g>
<g transform="translate(865,1253)"><text class="no" x="79" y="5">57.</text><text x="99" y="-4" textLength="38">上埜</text><text x="160" y="-4" textLength="28">遥子</text><text x="195" y="-4" textLength="97">(伊勢)</text><text x="99" y="15" textLength="38">川端</text><text x="160" y="15" textLength="28">七衣</text><text x="195" y="15" textLength="97">(伊勢)</text></g>
<g transform="translate(865,1300)"><text class="no" x="79" y="5">58.</text><text x="99" y="-4" textLength="38">小西</text><text x="160" y="-4" textLength="28">まゆ</text><text x="195" y="-4" textLength="97">(木本)</text><text x="99" y="15">仲</text><text x="160" y="15" textLength="28">茜里</text><text x="195" y="15" textLength="97">(木本)</text></g>
<g transform="translate(865,1347)"><text class="no" x="79" y="5">59.</text><text x="99" y="-4" textLength="38">奥山</text><text x="160" y="-4" textLength="28">咲来</text><text x="195" y="-4" textLength="97">(暁　)</text><text x="99" y="15" textLength="38">東田</text><text x="160" y="15" textLength="28">涼華</text><text x="195" y="15" textLength="97">(暁　)</text></g>
<g transform="translate(865,1394)"><text class="no" x="79" y="5">60.</text><text x="99" y="-4" textLength="38">秋山</text><text x="160" y="-4" textLength="28">結貴</text><text x="195" y="-4" textLength="97">(津西)</text><text x="99" y="15" textLength="38">田口</text><text x="160" y="15" textLength="28">真帆</text><text x="195" y="15" textLength="97">(津西)</text></g>
<g transform="translate(865,1441)"><text class="no" x="79" y="5">61.</text><text x="99" y="-4" textLength="38">豊田</text><text x="160" y="-4" textLength="28">真羽</text><text x="195" y="-4" textLength="97">(高田)</text><text x="99" y="15" textLength="38">青木</text><text x="160" y="15" textLength="28">凜佳</text><text x="195" y="15" textLength="97">(高田)</text></g>
<g transform="translate(865,1488)"><text class="no" x="79" y="5">62.</text><text x="99" y="-4" textLength="38">天野</text><text x="160" y="-4" textLength="28">莉里</text><text x="195" y="-4" textLength="97">(津商業)</text><text x="99" y="15" textLength="38">町野</text><text x="160" y="15" textLength="28">冬華</text><text x="195" y="15" textLength="97">(津商業)</text></g>
<g transform="translate(865,1535)"><text class="no" x="79" y="5">63.</text><text x="99" y="-4" textLength="38">田村</text><text x="148" y="-4" textLength="40">愛利咲</text><text x="195" y="-4" textLength="97">(久居)</text><text x="99" y="15" textLength="38">川合</text><text x="160" y="15" textLength="28">輝娘</text><text x="195" y="15" textLength="97">(久居)</text></g>
<g transform="translate(865,1582)"><text class="no" x="79" y="5">64.</text><text x="99" y="-4" textLength="38">中村</text><text x="160" y="-4" textLength="28">仁美</text><text x="195" y="-4" textLength="97">(伊勢学園)</text><text x="99" y="15" textLength="38">中西</text><text x="160" y="15" textLength="28">由姫</text><text x="195" y="15" textLength="97">(伊勢学園)</text></g>
<g transform="translate(865,1629)"><text class="no" x="79" y="5">65.</text><text x="99" y="-4" textLength="38">奥村</text><text x="160" y="-4" textLength="28">紗羽</text><text x="195" y="-4" textLength="97">(皇學館)</text><text x="99" y="15" textLength="38">谷田</text><text x="160" y="15" textLength="28">楓華</text><text x="195" y="15" textLength="97">(皇學館)</text></g>
</svg>
</body></html>
